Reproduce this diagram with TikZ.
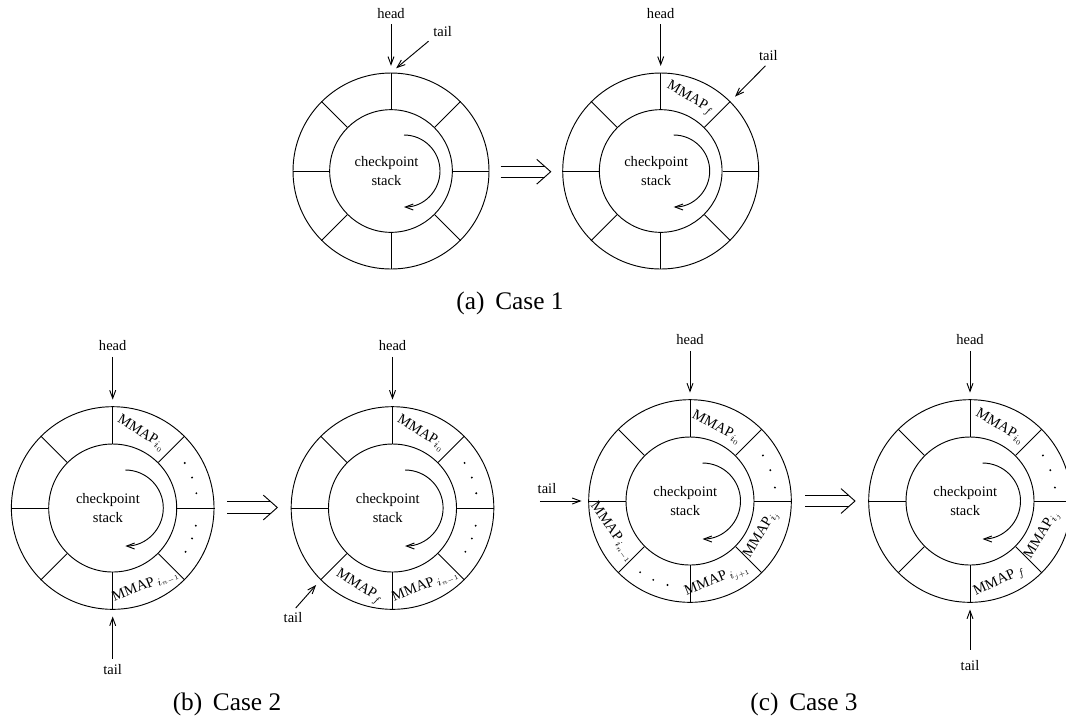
\documentclass[tikz,border=0pt]{standalone}
\usepackage{fontspec}
\setmainfont{Liberation Serif}
\usetikzlibrary{arrows.meta, positioning}

\begin{document}
\begin{tikzpicture}[x=0.75pt, y=0.75pt, line width=0.7pt,
        ring/.style={circle, draw, inner sep=0pt, minimum size=#1},
        lbl/.style={font=\fontsize{10.9}{14.3}\selectfont, inner sep=1pt},
        stack/.style={lbl, align=center},
        mmap/.style={lbl, inner sep=0pt},
        arr/.style={-{Straight Barb[length=6pt, width=4.5pt]}, shorten >=5pt, shorten <=3pt},
        turn/.style={-{Straight Barb[length=6pt, width=4.5pt]}},
        caption/.style={font=\fontsize{19}{22}\selectfont}
    ]
        \useasboundingbox (0,0) rectangle (1066,-719);

        % Case 1
        \coordinate (c1) at (391,-171);
        \coordinate (c2) at (660.7,-171);
        \node[ring=147pt] (o1) at (c1) {};
        \node[ring=92pt] (i1) at (c1) {};
        \node[ring=147pt] (o2) at (c2) {};
        \node[ring=92pt] (i2) at (c2) {};
        \foreach \a in {0,45,...,315} {
            \draw (i1.\a) -- (o1.\a);
            \draw (i2.\a) -- (o2.\a);
        }
        \node[stack, xshift=-3.4pt] (s1) at (c1) {checkpoint\\stack};
        \node[stack, xshift=-3.4pt] (s2) at (c2) {checkpoint\\stack};
        \draw[turn] (c1) ++(13,36) arc[start angle=90, end angle=-90, radius=36];
        \draw[turn] (c2) ++(13,36) arc[start angle=90, end angle=-90, radius=36];
        \node[mmap, rotate=-30] (m2a) at ([shift={(68:78)}]c2) {MMAP$_f$};
        \node[lbl] (h1) at (391,-13.5) {head};
        \node[lbl] (t1) at (442.7,-31.7) {tail};
        \node[lbl] (h2) at (660.7,-13.5) {head};
        \node[lbl] (t2) at (768.3,-56) {tail};
        \draw[arr] (h1) -- (o1);
        \draw[arr] (t1.south west) -- (o1.north);
        \draw[arr] (h2) -- (o2);
        \draw[arr] (t2.south) -- (o2.45);
        \node[caption] (capa) at (510,-303) {(a)\hspace{8pt}Case 1};

        % Case 2
        \coordinate (c3) at (112.7,-508);
        \coordinate (c4) at (392.5,-508);
        \node[ring=152pt] (o3) at (c3) {};
        \node[ring=96pt] (i3) at (c3) {};
        \node[ring=152pt] (o4) at (c4) {};
        \node[ring=96pt] (i4) at (c4) {};
        \foreach \a in {0,45,...,315} {
            \draw (i3.\a) -- (o3.\a);
            \draw (i4.\a) -- (o4.\a);
        }
        \node[stack, xshift=-3.6pt] (s3) at (c3) {checkpoint\\stack};
        \node[stack, xshift=-3.6pt] (s4) at (c4) {checkpoint\\stack};
        \draw[turn] (c3) ++(12.6,38) arc[start angle=90, end angle=-90, radius=38];
        \draw[turn] (c4) ++(12.6,38) arc[start angle=90, end angle=-90, radius=38];
        \node[mmap, rotate=-32] (m3a) at ([shift={(69:80)}]c3) {MMAP$_{i_0}$};
        \node[mmap, rotate=22] (m3b) at ([shift={(-67:85)}]c3) {MMAP\hspace{2pt}$_{i_{n-1}}$};
        \node[mmap, rotate=-32] (m4a) at ([shift={(69:80)}]c4) {MMAP$_{i_0}$};
        \node[mmap, rotate=22] (m4b) at ([shift={(-67:85)}]c4) {MMAP\hspace{2pt}$_{i_{n-1}}$};
        \node[mmap, rotate=-32] (m4c) at ([shift={(-113:86)}]c4) {MMAP$_f$};
        \foreach \a in {10,21,32,-12,-21,-31} {
            \fill ([shift={(\a:85)}]c3) circle (0.8pt);
            \fill ([shift={(\a:85)}]c4) circle (0.8pt);
        }
        \node[lbl] (h3) at (112.7,-346) {head};
        \node[lbl] (t3) at (112.7,-669.5) {tail};
        \node[lbl] (h4) at (392.5,-346) {head};
        \node[lbl] (t4) at (293,-618) {tail};
        \draw[arr] (h3) -- (o3);
        \draw[arr] (t3) -- (o3);
        \draw[arr] (h4) -- (o4);
        \draw[arr] (t4.north) -- (o4.-135);
        \node[caption] (capb) at (227,-704) {(b)\hspace{8pt}Case 2};

        % Case 3
        \coordinate (c5) at (690,-501);
        \coordinate (c6) at (970,-501);
        \node[ring=152pt] (o5) at (c5) {};
        \node[ring=96pt] (i5) at (c5) {};
        \node[ring=152pt] (o6) at (c6) {};
        \node[ring=96pt] (i6) at (c6) {};
        \foreach \a in {0,45,...,315} {
            \draw (i5.\a) -- (o5.\a);
            \draw (i6.\a) -- (o6.\a);
        }
        \node[stack, xshift=-3.6pt] (s5) at (c5) {checkpoint\\stack};
        \node[stack, xshift=-3.6pt] (s6) at (c6) {checkpoint\\stack};
        \draw[turn] (c5) ++(12.5,38) arc[start angle=90, end angle=-90, radius=38];
        \draw[turn] (c6) ++(12.5,38) arc[start angle=90, end angle=-90, radius=38];
        \node[mmap, rotate=-28] (m5a) at ([shift={(70:78)}]c5) {MMAP$_{i_0}$};
        \node[mmap, rotate=59] (m5b) at ([shift={(-25:79)}]c5) {MMAP$_{i_j}$};
        \node[mmap, rotate=22] (m5c) at ([shift={(-71:84)}]c5) {MMAP\hspace{2pt}$_{i_{j+1}}$};
        \node[mmap, rotate=-55] (m5d) at ([shift={(-158:84)}]c5) {MMAP\hspace{1pt}$_{i_{n-1}}$};
        \node[mmap, rotate=-30] (m6a) at ([shift={(68:80)}]c6) {MMAP$_{i_0}$};
        \node[mmap, rotate=59] (m6b) at ([shift={(-25:80)}]c6) {MMAP$_{i_j}$};
        \node[mmap, rotate=25] (m6c) at ([shift={(-70:86)}]c6) {MMAP\hspace{2pt}$_f$};
        \foreach \a in {9,21,32} {
            \fill ([shift={(\a:86)}]c5) circle (0.8pt);
            \fill ([shift={(\a:86)}]c6) circle (0.8pt);
        }
        \foreach \a in {-105,-115,-125}
            \fill ([shift={(\a:87)}]c5) circle (0.8pt);
        \node[lbl] (h5) at (690,-340) {head};
        \node[lbl] (t5) at (547,-489) {tail};
        \node[lbl] (h6) at (970,-340) {head};
        \node[lbl] (t6) at (970,-666) {tail};
        \draw[arr] (h5) -- (o5);
        \draw[arr] (t5.south west |- o5.west) -- (o5.west);
        \draw[arr] (h6) -- (o6);
        \draw[arr, shorten <=7pt] (t6) -- (o6);
        \node[caption] (capc) at (804,-704) {(c)\hspace{8pt}Case 3};

        % double arrows
        \foreach \x/\y in {500.7/171.7, 227.3/507.5, 805/501} {
            \draw (\x,-\y+5.7) -- ++(44,0);
            \draw (\x,-\y-5.7) -- ++(44,0);
            \draw (\x+36,-\y+12.4) -- (\x+50,-\y) -- (\x+36,-\y-12.4);
        }
    \end{tikzpicture}
\end{document}
